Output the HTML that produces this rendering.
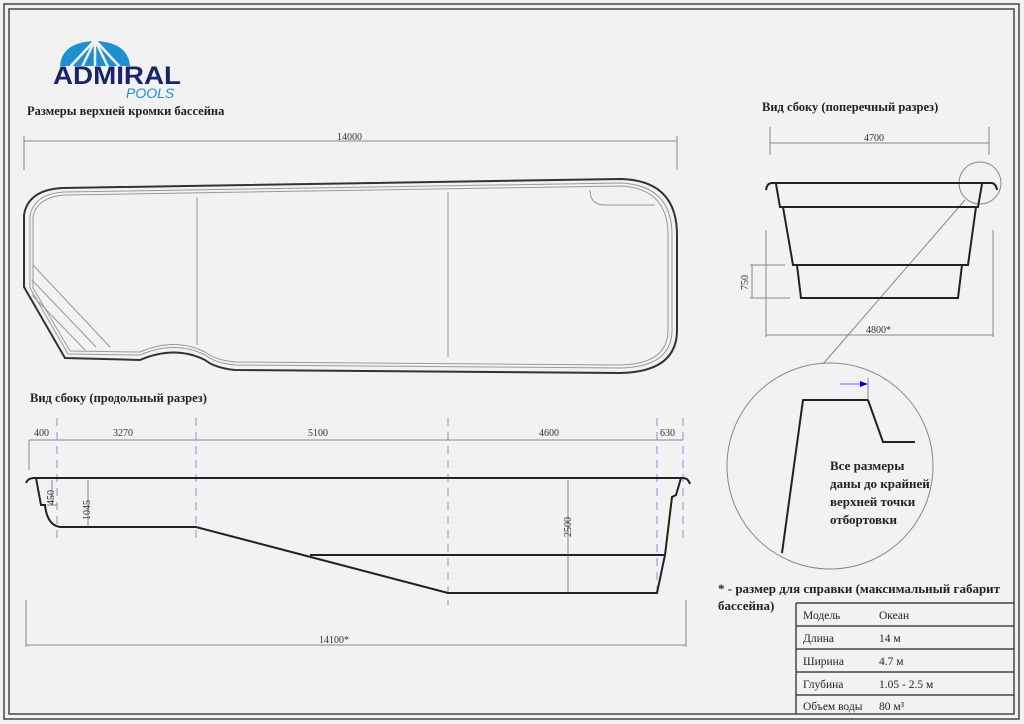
<!DOCTYPE html>
<html><head><meta charset="utf-8"><style>
html,body{margin:0;padding:0;background:#f2f2f2}
svg{display:block}
text{font-family:"Liberation Serif",serif}
</style></head><body>
<svg width="1024" height="724" viewBox="0 0 1024 724" xmlns="http://www.w3.org/2000/svg">
<rect width="1024" height="724" fill="#f2f2f2"/>
<rect x="4" y="4" width="1015" height="715" fill="none" stroke="#444" stroke-width="1.5"/>
<rect x="9" y="9" width="1005" height="705" fill="none" stroke="#444" stroke-width="1.5"/>
<!-- logo -->
<path d="M60 66 Q62 42 95 41 Q128 42 130 66Z" fill="#1e8fd0"/>
<g stroke="#f2f2f2" stroke-width="2.5">
<line x1="95" y1="40" x2="70" y2="67"/><line x1="95" y1="40" x2="82" y2="67"/><line x1="95" y1="40" x2="95" y2="67"/>
<line x1="95" y1="40" x2="108" y2="67"/><line x1="95" y1="40" x2="120" y2="67"/>
</g>
<text x="53" y="84" font-weight="bold" font-size="25" fill="#1a2468" textLength="128" lengthAdjust="spacingAndGlyphs" style="font-family:'Liberation Sans',sans-serif">ADMIRAL</text>
<text x="126" y="98" font-size="14" fill="#1e8fd0" font-style="italic" style="font-family:'Liberation Sans',sans-serif">POOLS</text>
<text x="27" y="115" font-size="12.5" font-weight="bold" fill="#222">Размеры верхней кромки бассейна</text>
<text x="30" y="402" font-size="12.5" font-weight="bold" fill="#222">Вид сбоку (продольный разрез)</text>
<text x="762" y="111" font-size="12.5" font-weight="bold" fill="#222">Вид сбоку (поперечный разрез)</text>
<!-- plan view -->
<g fill="none" stroke="#888" stroke-width="1">
<line x1="24" y1="136" x2="24" y2="170"/><line x1="677" y1="136" x2="677" y2="170"/>
<line x1="24" y1="141" x2="677" y2="141"/>
</g>
<text x="337" y="140" font-size="10" fill="#333">14000</text>
<path d="M24 215 Q28 190 62 188 L620 179 Q677 180 677 235 L677 330 Q677 372 620 373 L235 370 Q215 368 205 360 Q175 345 140 360 L65 358 L24 287 Z" fill="none" stroke="#333" stroke-width="2"/>
<path d="M30 216 Q34 194 64 192 L620 183 Q672 185 672 235 L672 330 Q672 367 620 368 L235 365 Q215 363 205 355 Q175 340 140 355 L68 354 L30 288 Z" fill="none" stroke="#999" stroke-width="1"/>
<path d="M33 217 Q37 197 65 195 L620 186 Q668 188 668 235 L668 330 Q668 364 620 365 L235 362 Q215 360 205 352 Q175 337 140 352 L70 351 L33 288 Z" fill="none" stroke="#999" stroke-width="1"/>
<g stroke="#999" stroke-width="1" fill="none">
<line x1="33" y1="265" x2="110" y2="347"/><line x1="32" y1="280" x2="96" y2="347"/><line x1="32" y1="295" x2="85" y2="350"/>
<line x1="197" y1="197" x2="197" y2="345"/><line x1="448" y1="192" x2="448" y2="357"/>
<path d="M590 190 Q590 205 605 205 L655 205"/>
</g>
<!-- longitudinal -->
<g stroke="#8a8fd8" stroke-width="1" stroke-dasharray="8,6">
<line x1="57" y1="418" x2="57" y2="540"/><line x1="196" y1="418" x2="196" y2="540"/>
<line x1="448" y1="418" x2="448" y2="605"/><line x1="657" y1="418" x2="657" y2="600"/><line x1="683" y1="418" x2="683" y2="540"/>
</g>
<g stroke="#888" stroke-width="1" fill="none">
<line x1="29" y1="440" x2="683" y2="440"/><line x1="29" y1="440" x2="29" y2="470"/>
<line x1="52" y1="480" x2="52" y2="505"/><line x1="47" y1="505" x2="57" y2="505"/>
<line x1="88" y1="480" x2="88" y2="527"/>
<line x1="568" y1="480" x2="568" y2="592"/>
<line x1="26" y1="600" x2="26" y2="647"/><line x1="686" y1="600" x2="686" y2="647"/><line x1="26" y1="645" x2="686" y2="645"/>
</g>
<g font-size="10" fill="#333">
<text x="34" y="436">400</text><text x="113" y="436">3270</text><text x="308" y="436">5100</text>
<text x="539" y="436">4600</text><text x="660" y="436">630</text>
<text x="319" y="643">14100*</text>
<text transform="translate(54,505) rotate(-90)">450</text>
<text transform="translate(90,520) rotate(-90)">1045</text>
<text transform="translate(571,537) rotate(-90)">2500</text>
</g>
<g fill="none" stroke="#222" stroke-width="2">
<path d="M26 483 Q28 478 34 478 L683 478 Q688 478 690 484"/>
<path d="M36 478 L41 505 L45 505 Q47 525 60 527 L196 527 L448 593 L657 593 L665 555 L672 497 L676 495 L681 478"/>
<line x1="310" y1="555" x2="665" y2="555"/>
</g>
<!-- cross section -->
<g stroke="#888" stroke-width="1" fill="none">
<line x1="770" y1="127" x2="770" y2="155"/><line x1="989" y1="127" x2="989" y2="155"/><line x1="770" y1="143" x2="989" y2="143"/>
<line x1="766" y1="230" x2="766" y2="337"/><line x1="993" y1="230" x2="993" y2="337"/><line x1="766" y1="335" x2="993" y2="335"/>
<line x1="750" y1="265" x2="785" y2="265"/><line x1="750" y1="298" x2="790" y2="298"/><line x1="752" y1="265" x2="752" y2="298"/>
<circle cx="980" cy="183" r="21"/>
<line x1="965" y1="200" x2="823" y2="364"/>
<circle cx="830" cy="466" r="103"/>
</g>
<g font-size="10" fill="#333">
<text x="864" y="141">4700</text><text x="866" y="333">4800*</text>
<text transform="translate(748,290) rotate(-90)">750</text>
</g>
<g fill="none" stroke="#222" stroke-width="2">
<path d="M766 190 Q767 183 772 183 L991 183 Q996 183 997 190"/>
<path d="M776 184 L780 207 L978 207 L982 184"/>
<path d="M783 207 L793 265 L968 265 L976 207"/>
<path d="M797 265 L801 298 L958 298 L962 265"/>
</g>
<!-- detail -->
<path d="M782 553 L803 400 L868 400 L883 442 L915 442" fill="none" stroke="#222" stroke-width="2"/>
<line x1="868" y1="378" x2="868" y2="400" stroke="#888"/>
<line x1="840" y1="384" x2="862" y2="384" stroke="#66f"/>
<path d="M868 384 L860 381 L860 387Z" fill="#00c"/>
<g font-size="13" font-weight="bold" fill="#222">
<text x="830" y="470">Все размеры</text><text x="830" y="488">даны до крайней</text>
<text x="830" y="506">верхней точки</text><text x="830" y="524">отбортовки</text>
</g>
<text x="718" y="593" font-size="13" font-weight="bold" fill="#222">* - размер для справки (максимальный габарит</text>
<text x="718" y="610" font-size="13" font-weight="bold" fill="#222">бассейна)</text>
<g stroke="#444" stroke-width="1.5" fill="none">
<line x1="796" y1="603" x2="1014" y2="603"/><line x1="796" y1="626" x2="1014" y2="626"/><line x1="796" y1="649" x2="1014" y2="649"/>
<line x1="796" y1="672" x2="1014" y2="672"/><line x1="796" y1="695" x2="1014" y2="695"/>
<line x1="796" y1="603" x2="796" y2="714"/>
</g>
<g font-size="11.5" fill="#222">
<text x="803" y="619">Модель</text><text x="879" y="619">Океан</text>
<text x="803" y="642">Длина</text><text x="879" y="642">14 м</text>
<text x="803" y="665">Ширина</text><text x="879" y="665">4.7 м</text>
<text x="803" y="688">Глубина</text><text x="879" y="688">1.05 - 2.5 м</text>
<text x="803" y="710">Объем воды</text><text x="879" y="710">80 м³</text>
</g>
</svg>
</body></html>
